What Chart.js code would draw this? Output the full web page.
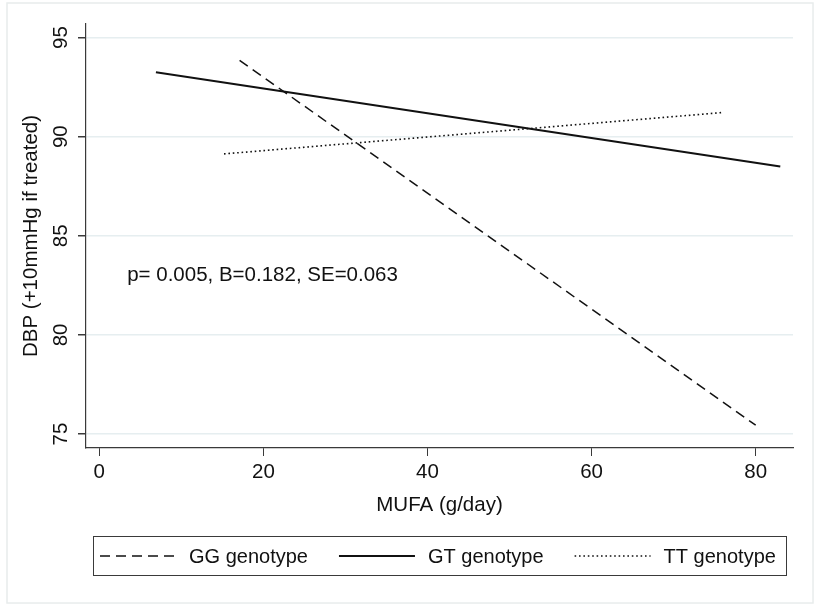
<!DOCTYPE html>
<html>
<head>
<meta charset="utf-8">
<script src="https://cdn.jsdelivr.net/npm/chart.js@4.4.1/dist/chart.umd.min.js"></script>
<style>
  html, body { margin: 0; padding: 0; background: #fff; }
  canvas { display: block; }
</style>
</head>
<body>
<canvas id="dbpChart" width="815" height="612"></canvas>
<script>
// Fitted DBP lines by genotype (start and end of each line)
const genotypes = ['GG genotype', 'GT genotype', 'TT genotype'];
const ggMufa = [17.1, 80.0];
const ggDbp = [93.85, 75.45];
const gtMufa = [6.9, 83.0];
const gtDbp = [93.25, 88.49];
const ttMufa = [15.2, 75.8];
const ttDbp = [89.13, 91.21];

const xTicks = [0, 20, 40, 60, 80];
const yTicks = [75, 80, 85, 90, 95];
const statsText = 'p= 0.005, B=0.182, SE=0.063';

const FONT = '"Liberation Sans", Arial, sans-serif';
const FSIZE = 20.5;
const ink = '#111';
const axisGray = '#3a3a3a';

function toPoints(xs, ys) {
    return xs.map((x, i) => ({ x: x, y: ys[i] }));
}

// Outer frame, stats text and the boxed legend
const decorations = {
    id: 'decorations',
    beforeDraw(chart) {
        const ctx = chart.ctx;
        ctx.save();
        ctx.fillStyle = '#fff';
        ctx.fillRect(0, 0, chart.width, chart.height);
        ctx.strokeStyle = '#e8ecec';
        ctx.lineWidth = 1.5;
        ctx.strokeRect(7, 3, 806, 600);
        ctx.restore();
    },
    afterDraw(chart) {
        const ctx = chart.ctx;
        const xs = chart.scales.x, ys = chart.scales.y;
        ctx.save();
        ctx.font = FSIZE + 'px ' + FONT;
        ctx.fillStyle = ink;
        ctx.textAlign = 'left';
        ctx.textBaseline = 'middle';
        ctx.fillText(statsText, xs.getPixelForValue(3.4), ys.getPixelForValue(83));

        // legend box
        ctx.font = '20px ' + FONT;
        ctx.strokeStyle = axisGray;
        ctx.lineWidth = 1;
        ctx.setLineDash([]);
        ctx.strokeRect(93.5, 536.5, 693, 39);
        let x = 100;
        const y = 556;
        chart.data.datasets.forEach(ds => {
            ctx.beginPath();
            ctx.setLineDash(ds.borderDash || []);
            ctx.lineWidth = ds.borderWidth;
            ctx.strokeStyle = ds.borderColor;
            ctx.moveTo(x, y);
            ctx.lineTo(x + 76, y);
            ctx.stroke();
            ctx.setLineDash([]);
            ctx.fillText(ds.label, x + 89, y + 1);
            x += 89 + ctx.measureText(ds.label).width + 31;
        });
        ctx.restore();
    }
};

const ctx = document.getElementById('dbpChart').getContext('2d');
new Chart(ctx, {
    type: 'scatter',
    data: {
        datasets: [
            {
                label: genotypes[0],
                data: toPoints(ggMufa, ggDbp),
                showLine: true,
                borderColor: '#111',
                borderWidth: 1.5,
                borderDash: [10, 6],
                pointRadius: 0
            },
            {
                label: genotypes[1],
                data: toPoints(gtMufa, gtDbp),
                showLine: true,
                borderColor: '#111',
                borderWidth: 2,
                pointRadius: 0
            },
            {
                label: genotypes[2],
                data: toPoints(ttMufa, ttDbp),
                showLine: true,
                borderColor: '#111',
                borderWidth: 1.6,
                borderDash: [1.6, 2.8],
                pointRadius: 0
            }
        ]
    },
    options: {
        responsive: false,
        animation: false,
        devicePixelRatio: 1,
        layout: { padding: { left: 0, top: 24, right: 22, bottom: 94 } },
        plugins: {
            legend: { display: false },
            tooltip: { enabled: false }
        },
        scales: {
            x: {
                type: 'linear',
                min: -1.62,
                max: 84.55,
                afterBuildTicks: scale => { scale.ticks = xTicks.map(v => ({ value: v })); },
                afterFit: scale => { scale.height = 70; },
                grid: { drawOnChartArea: false, drawTicks: true, tickLength: 8, color: axisGray, tickColor: axisGray },
                border: { display: true, color: axisGray, width: 1.2 },
                ticks: { color: ink, font: { family: FONT, size: FSIZE }, padding: 4 },
                title: {
                    display: true,
                    text: 'MUFA (g/day)',
                    color: ink,
                    font: { family: FONT, size: FSIZE },
                    padding: 0
                }
            },
            y: {
                type: 'linear',
                min: 74.3,
                max: 95.68,
                afterBuildTicks: scale => { scale.ticks = yTicks.map(v => ({ value: v })); },
                afterFit: scale => { scale.width = 86; },
                grid: { drawOnChartArea: true, drawTicks: true, tickLength: 8, color: '#e6eef0', lineWidth: 1.5, tickColor: axisGray },
                border: { display: true, color: axisGray, width: 1.2 },
                ticks: {
                    color: ink,
                    font: { family: FONT, size: FSIZE },
                    minRotation: 90,
                    maxRotation: 90,
                    crossAlign: 'center',
                    padding: 5
                },
                title: {
                    display: true,
                    text: 'DBP (+10mmHg if treated)',
                    color: ink,
                    font: { family: FONT, size: FSIZE },
                    padding: { top: 19, bottom: 0 }
                }
            }
        }
    },
    plugins: [decorations]
});
</script>
</body>
</html>
